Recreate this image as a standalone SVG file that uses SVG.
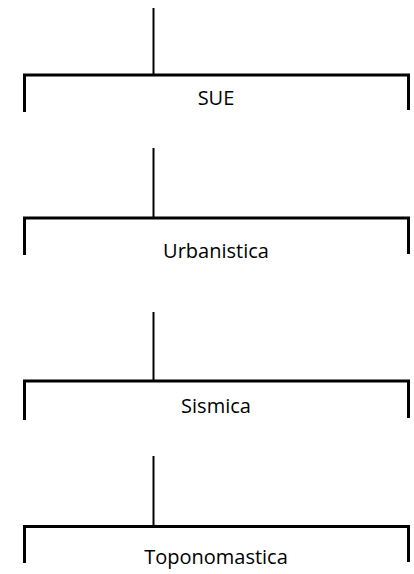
<svg xmlns="http://www.w3.org/2000/svg" width="414" height="574" viewBox="0 0 414 574">
  <style>
    .stem { stroke: #000; stroke-width: 2; fill: none; }
    .bracket { stroke: #000; stroke-width: 3; fill: none; stroke-linejoin: miter; stroke-linecap: butt; }
    .label { font-family: "Open Sans", "Liberation Sans", sans-serif; font-size: 20px; fill: #000; text-anchor: middle; }
  </style>
  <rect width="414" height="574" fill="#fff"/>

  <!-- vertical stems above each bracket -->
  <g id="connectors">
    <line class="stem" x1="153.5" y1="8" x2="153.5" y2="74"/>
    <line class="stem" x1="153.5" y1="148" x2="153.5" y2="217"/>
    <line class="stem" x1="153.5" y1="312" x2="153.5" y2="380"/>
    <line class="stem" x1="153.5" y1="456" x2="153.5" y2="525"/>
  </g>

  <g id="node-sue">
    <path class="bracket" d="M24.5,112 V75 H408.5 V110"/>
    <text class="label" x="216" y="104.5">SUE</text>
  </g>

  <g id="node-urbanistica">
    <path class="bracket" d="M24.5,255 V218 H408.5 V254"/>
    <text class="label" x="216" y="257.5">Urbanistica</text>
  </g>

  <g id="node-sismica">
    <path class="bracket" d="M24.5,420 V381 H408.5 V418"/>
    <text class="label" x="216" y="413">Sismica</text>
  </g>

  <g id="node-toponomastica">
    <path class="bracket" d="M24.5,563 V526.5 H408.5 V562"/>
    <text class="label" x="216" y="564">Toponomastica</text>
  </g>
</svg>
